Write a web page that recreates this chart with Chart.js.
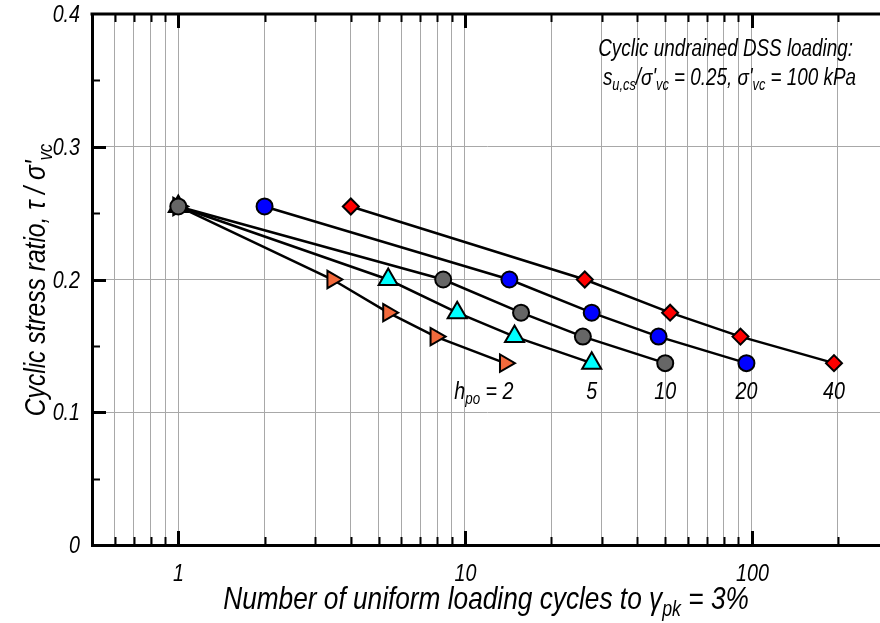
<!DOCTYPE html>
<html>
<head>
<meta charset="utf-8">
<script src="https://cdn.jsdelivr.net/npm/chart.js@4"></script>
<style>
  html, body { margin: 0; padding: 0; background: #fff; overflow: hidden; }
</style>
</head>
<body>
<canvas id="csrChart" width="894" height="623"></canvas>
<script>
// cycles to gamma_pk = 3% for each h_po, at the same cyclic stress ratios
const csrLevels = [0.255, 0.2, 0.175, 0.157, 0.137];
const cyclesH2 = [1, 3.45, 5.4, 7.9, 13.8];
const cyclesH5 = [1, 5.4, 9.4, 14.9, 27.7];
const cyclesH10 = [1, 8.4, 15.7, 25.8, 50];
const cyclesH20 = [2, 14.3, 27.7, 47.4, 96];
const cyclesH40 = [4, 26.2, 52, 91.5, 194];
const hpoLabels = ["2", "5", "10", "20", "40"];

const xTicks = [0.5, 0.6, 0.7, 0.8, 0.9, 1, 2, 3, 4, 5, 6, 7, 8, 9, 10,
  20, 30, 40, 50, 60, 70, 80, 90, 100, 200];
const xLabelled = [1, 10, 100];
const yTicks = [0, 0.05, 0.1, 0.15, 0.2, 0.25, 0.3, 0.35, 0.4];

const FONT = '"Liberation Sans", Arial, sans-serif';
const NARROW = 0.82; // squeeze text sideways, like Arial Narrow

function isMajorY(v) {
  return Math.abs(v * 10 - Math.round(v * 10)) < 1e-6;
}

function yLabel(v) {
  return v === 0 ? "0" : v.toFixed(1);
}

function pts(cycles) {
  return cycles.map((c, i) => ({ x: c, y: csrLevels[i] }));
}

// narrow italic text with subscripts, parts = [{t, sub}]
function richText(ctx, parts, x, y, size, align) {
  const f = s => "italic " + s + "px " + FONT;
  let w = 0;
  parts.forEach(p => {
    ctx.font = f(p.sub ? size * 0.68 : size);
    p.w = ctx.measureText(p.t).width;
    w += p.w;
  });
  w *= NARROW;
  const x0 = align === "center" ? x - w / 2 : align === "right" ? x - w : x;
  ctx.save();
  ctx.translate(x0, y);
  ctx.scale(NARROW, 1);
  ctx.textAlign = "left";
  ctx.textBaseline = "middle";
  ctx.fillStyle = "#000";
  let cx = 0;
  parts.forEach(p => {
    ctx.font = f(p.sub ? size * 0.68 : size);
    ctx.fillText(p.t, cx, p.sub ? size * 0.3 : 0);
    cx += p.w;
  });
  ctx.restore();
}

const decorations = {
  id: "decorations",
  afterDraw(chart) {
    const ctx = chart.ctx;
    const a = chart.chartArea;
    const xs = chart.scales.x, ys = chart.scales.y;
    ctx.save();
    ctx.strokeStyle = "#000";

    // top border
    ctx.lineWidth = 3;
    ctx.beginPath();
    ctx.moveTo(a.left - 1.5, a.top);
    ctx.lineTo(a.right + 2, a.top);
    ctx.stroke();

    // inward ticks on x (bottom and top) + labels
    xTicks.forEach(v => {
      if (v === 0.5) return;
      const px = Math.round(xs.getPixelForValue(v)) + 0.5;
      const major = xLabelled.includes(v);
      const len = major ? 14 : 8;
      ctx.lineWidth = major ? 3 : 2;
      ctx.beginPath();
      ctx.moveTo(px, a.bottom);
      ctx.lineTo(px, a.bottom - len);
      ctx.moveTo(px, a.top);
      ctx.lineTo(px, a.top + len);
      ctx.stroke();
      if (major) richText(ctx, [{ t: String(v) }], px, a.bottom + 29, 24, "center");
    });

    // inward ticks on y + labels
    yTicks.forEach(v => {
      const py = Math.round(ys.getPixelForValue(v)) + 0.5;
      const major = isMajorY(v);
      if (major) richText(ctx, [{ t: yLabel(v) }], a.left - 12, py + 1, 24, "right");
      if (v === 0 || v === 0.4) return;
      ctx.lineWidth = major ? 3 : 2;
      ctx.beginPath();
      ctx.moveTo(a.left, py);
      ctx.lineTo(a.left + (major ? 14 : 8), py);
      ctx.stroke();
    });

    // axis titles
    richText(ctx, [
      { t: "Number of uniform loading cycles to \u03b3" },
      { t: "pk", sub: true },
      { t: " = 3%" }
    ], 486, 600, 32, "center");

    ctx.save();
    ctx.translate(37, 280);
    ctx.rotate(-Math.PI / 2);
    richText(ctx, [
      { t: "Cyclic stress ratio, \u03c4 / \u03c3'" },
      { t: "vc", sub: true }
    ], 0, 0, 30, "center");
    ctx.restore();

    // note, top right
    richText(ctx, [{ t: "Cyclic undrained DSS loading:" }], 853, 50, 23, "right");
    richText(ctx, [
      { t: "s" }, { t: "u,cs", sub: true },
      { t: "/\u03c3'" }, { t: "vc", sub: true },
      { t: " = 0.25, \u03c3'" }, { t: "vc", sub: true },
      { t: " = 100 kPa" }
    ], 856, 79, 23, "right");

    // h_po labels under the last point of each curve
    const lastX = [cyclesH2, cyclesH5, cyclesH10, cyclesH20, cyclesH40].map(c => c[c.length - 1]);
    const ly = ys.getPixelForValue(0.115);
    lastX.forEach((c, i) => {
      const px = xs.getPixelForValue(c);
      if (i === 0) {
        ctx.font = "italic 24px " + FONT;
        const w2 = ctx.measureText(hpoLabels[0]).width * NARROW;
        richText(ctx, [{ t: "h" }, { t: "po", sub: true }, { t: " = " + hpoLabels[0] }],
          px + 3 + w2 / 2, ly, 24, "right");
      } else {
        richText(ctx, [{ t: hpoLabels[i] }], px, ly, 24, "center");
      }
    });
    ctx.restore();
  }
};

const grey = "#666666";

new Chart(document.getElementById("csrChart"), {
  type: "scatter",
  data: {
    datasets: [
      {
        label: "h_po = 10",
        data: pts(cyclesH10),
        order: 0,
        pointStyle: "circle",
        pointRadius: 8,
        backgroundColor: grey
      },
      {
        label: "h_po = 2",
        data: pts(cyclesH2),
        order: 4,
        pointStyle: "triangle",
        pointRotation: 90,
        pointRadius: 10,
        backgroundColor: [grey, "#F26A3C", "#F26A3C", "#F26A3C", "#F26A3C"]
      },
      {
        label: "h_po = 5",
        data: pts(cyclesH5),
        order: 3,
        pointStyle: "triangle",
        pointRadius: 11,
        backgroundColor: [grey, "#00FFFF", "#00FFFF", "#00FFFF", "#00FFFF"]
      },
      {
        label: "h_po = 20",
        data: pts(cyclesH20),
        order: 2,
        pointStyle: "circle",
        pointRadius: 8,
        backgroundColor: "#0000FF"
      },
      {
        label: "h_po = 40",
        data: pts(cyclesH40),
        order: 1,
        pointStyle: "rectRot",
        pointRadius: 8,
        backgroundColor: "#FF0000"
      }
    ].map(d => Object.assign({
      showLine: true,
      borderColor: "#000",
      borderWidth: 2.5,
      pointBorderColor: "#000",
      pointBorderWidth: 2,
      pointHoverRadius: 8,
      tension: 0
    }, d))
  },
  options: {
    responsive: false,
    animation: false,
    devicePixelRatio: 1,
    layout: { padding: { top: 14, right: 0, left: 0, bottom: 0 } },
    plugins: { legend: { display: false }, tooltip: { enabled: false } },
    scales: {
      x: {
        type: "logarithmic",
        min: 0.5,
        max: 283,
        afterBuildTicks: s => { s.ticks = xTicks.map(v => ({ value: v })); },
        afterFit: s => { s.height = 78; },
        ticks: { display: false },
        grid: {
          drawTicks: false,
          lineWidth: 1,
          color: c => (c.tick && c.tick.value === 0.5) ? "rgba(0,0,0,0)" : "#a8a8a8"
        },
        border: { color: "#000", width: 3 }
      },
      y: {
        type: "linear",
        min: 0,
        max: 0.4,
        afterBuildTicks: s => { s.ticks = yTicks.map(v => ({ value: v })); },
        afterFit: s => { s.width = 92; },
        ticks: { display: false },
        grid: {
          drawTicks: false,
          lineWidth: 1,
          color: c => {
            const v = c.tick ? c.tick.value : 0;
            return (isMajorY(v) && v > 0 && v < 0.4) ? "#a8a8a8" : "rgba(0,0,0,0)";
          }
        },
        border: { color: "#000", width: 3 }
      }
    }
  },
  plugins: [decorations]
});
</script>
</body>
</html>
